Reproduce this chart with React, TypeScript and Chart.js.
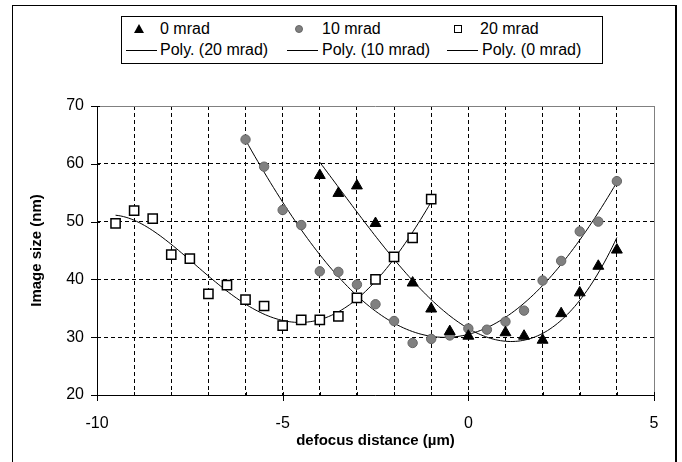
import React, { useEffect, useRef } from "react";
import { Chart, registerables } from "chart.js";
Chart.register(...registerables);

// ---- data ----
const x0mrad = [-4, -3.5, -3, -2.5, -1.5, -1, -0.5, 0, 1, 1.5, 2, 2.5, 3, 3.5, 4];
const y0mrad = [58.0, 54.9, 56.2, 49.7, 39.4, 34.9, 31.0, 30.2, 30.8, 30.2, 29.5, 34.1, 37.7, 42.3, 45.1];

const x10mrad = [-6, -5.5, -5, -4.5, -4, -3.5, -3, -2.5, -2, -1.5, -1, -0.5, 0, 0.5, 1, 1.5, 2, 2.5, 3, 3.5, 4];
const y10mrad = [64.2, 59.5, 52.0, 49.4, 41.4, 41.3, 39.1, 35.7, 32.8, 29.0, 29.7, 30.3, 31.5, 31.3, 32.7, 34.6, 39.8, 43.2, 48.3, 50.0, 57.0];

const x20mrad = [-9.5, -9, -8.5, -8, -7.5, -7, -6.5, -6, -5.5, -5, -4.5, -4, -3.5, -3, -2.5, -2, -1.5, -1];
const y20mrad = [49.7, 51.9, 50.5, 44.3, 43.6, 37.5, 39.0, 36.5, 35.4, 32.0, 33.0, 33.0, 33.6, 36.8, 40.0, 43.9, 47.2, 53.9];

const seriesNames = ["0 mrad", "10 mrad", "20 mrad"];
const trendNames = ["Poly. (20 mrad)", "Poly. (10 mrad)", "Poly. (0 mrad)"];
const polyOrder0 = 3;
const polyOrder10 = 4;
const polyOrder20 = 4;

const xMin = -10;
const xMax = 5;
const xMajorTicks = [-10, -5, 0, 5];
const yMin = 20;
const yMax = 70;
const yTicks = [20, 30, 40, 50, 60, 70];
const xTitle = "defocus distance (\u00b5m)";
const yTitle = "Image size (nm)";

// least-squares polynomial (Excel "Poly." trendline)
function polyfit(xs: number[], ys: number[], deg: number): number[] {
  const n = deg + 1;
  const A: number[][] = Array.from({ length: n }, () => new Array(n + 1).fill(0));
  for (let i = 0; i < xs.length; i++) {
    const pw: number[] = [];
    let p = 1;
    for (let k = 0; k < 2 * n; k++) {
      pw.push(p);
      p *= xs[i];
    }
    for (let r = 0; r < n; r++) {
      for (let c = 0; c < n; c++) A[r][c] += pw[r + c];
      A[r][n] += pw[r] * ys[i];
    }
  }
  for (let col = 0; col < n; col++) {
    let piv = col;
    for (let r = col + 1; r < n; r++) if (Math.abs(A[r][col]) > Math.abs(A[piv][col])) piv = r;
    const t = A[col];
    A[col] = A[piv];
    A[piv] = t;
    for (let r = 0; r < n; r++) {
      if (r === col) continue;
      const f = A[r][col] / A[col][col];
      for (let c = col; c <= n; c++) A[r][c] -= f * A[col][c];
    }
  }
  return A.map((row, i) => row[n] / row[i]);
}

function trend(xs: number[], ys: number[], deg: number) {
  const coef = polyfit(xs, ys, deg);
  const lo = Math.min(...xs);
  const hi = Math.max(...xs);
  const pts: { x: number; y: number }[] = [];
  const steps = 120;
  for (let i = 0; i <= steps; i++) {
    const x = lo + ((hi - lo) * i) / steps;
    let y = 0;
    for (let k = coef.length - 1; k >= 0; k--) y = y * x + coef[k];
    pts.push({ x, y });
  }
  return pts;
}

const zip = (xs: number[], ys: number[]) => xs.map((x, i) => ({ x, y: ys[i] }));

const FONT = "'Liberation Sans', Arial, sans-serif";

const framePlugin = {
  id: "framePlugin",
  afterDatasetsDraw(chart: any) {
    const { ctx, chartArea } = chart;
    const { left, right, top, bottom } = chartArea;
    const xs = chart.scales.x;
    const ys = chart.scales.y;
    ctx.save();
    ctx.setLineDash([]);
    ctx.lineWidth = 1;
    ctx.strokeStyle = "#808080";
    ctx.beginPath();
    ctx.moveTo(left, Math.round(top) + 0.5);
    ctx.lineTo(right, Math.round(top) + 0.5);
    ctx.moveTo(Math.round(right) + 0.5, top);
    ctx.lineTo(Math.round(right) + 0.5, bottom);
    ctx.stroke();
    ctx.strokeStyle = "#000";
    ctx.beginPath();
    ctx.moveTo(Math.round(left) + 0.5, top);
    ctx.lineTo(Math.round(left) + 0.5, bottom + 0.5);
    ctx.moveTo(left, Math.round(bottom) + 0.5);
    ctx.lineTo(right + 0.5, Math.round(bottom) + 0.5);
    yTicks.forEach((v) => {
      const py = Math.round(ys.getPixelForValue(v)) + 0.5;
      ctx.moveTo(left - 6, py);
      ctx.lineTo(left + 3, py);
    });
    for (let v = xMin; v <= xMax; v++) {
      const px = Math.round(xs.getPixelForValue(v)) + 0.5;
      if (xMajorTicks.includes(v)) {
        ctx.moveTo(px, bottom - 3);
        ctx.lineTo(px, bottom + 6);
      } else {
        ctx.moveTo(px, bottom - 3);
        ctx.lineTo(px, bottom);
      }
    }
    ctx.stroke();
    ctx.restore();
  },
};

function LegendMarker({ kind }: { kind: string }) {
  if (kind === "tri")
    return (
      <div
        style={{
          width: 0,
          height: 0,
          borderLeft: "5px solid transparent",
          borderRight: "5px solid transparent",
          borderBottom: "9px solid #000",
        }}
      />
    );
  if (kind === "circ")
    return <div style={{ width: 8, height: 8, borderRadius: "50%", background: "#808080", border: "1px solid #666", boxSizing: "border-box" }} />;
  if (kind === "sq")
    return <div style={{ width: 8, height: 8, background: "#fff", border: "1px solid #000", boxSizing: "border-box" }} />;
  return <div style={{ width: 31, height: 0, borderTop: "1px solid #000" }} />;
}

export default function App() {
  const canvasRef = useRef<HTMLCanvasElement | null>(null);

  useEffect(() => {
    if (!canvasRef.current) return;
    const chart = new Chart(canvasRef.current, {
      type: "scatter",
      data: {
        datasets: [
          {
            label: seriesNames[0],
            data: zip(x0mrad, y0mrad),
            pointStyle: "triangle",
            pointRadius: 6.3,
            backgroundColor: "#000",
            borderColor: "#000",
            borderWidth: 1,
            showLine: false,
            order: 1,
          },
          {
            label: seriesNames[1],
            data: zip(x10mrad, y10mrad),
            pointStyle: "circle",
            pointRadius: 4.7,
            backgroundColor: "#808080",
            borderColor: "#666",
            borderWidth: 1,
            showLine: false,
            order: 1,
          },
          {
            label: seriesNames[2],
            data: zip(x20mrad, y20mrad),
            pointStyle: "rect",
            pointRadius: 6.5,
            backgroundColor: "#fff",
            borderColor: "#000",
            borderWidth: 1.5,
            showLine: false,
            order: 1,
          },
          {
            label: trendNames[0],
            data: trend(x20mrad, y20mrad, polyOrder20),
            showLine: true,
            pointRadius: 0,
            borderColor: "#000",
            borderWidth: 1,
            tension: 0,
            order: 2,
          },
          {
            label: trendNames[1],
            data: trend(x10mrad, y10mrad, polyOrder10),
            showLine: true,
            pointRadius: 0,
            borderColor: "#000",
            borderWidth: 1,
            tension: 0,
            order: 2,
          },
          {
            label: trendNames[2],
            data: trend(x0mrad, y0mrad, polyOrder0),
            showLine: true,
            pointRadius: 0,
            borderColor: "#000",
            borderWidth: 1,
            tension: 0,
            order: 2,
          },
        ] as any,
      },
      options: {
        animation: false,
        responsive: false,
        devicePixelRatio: 1,
        layout: { padding: { left: 12, top: 106, right: 28, bottom: 12 } },
        plugins: {
          legend: { display: false },
          tooltip: { enabled: false },
        },
        scales: {
          x: {
            type: "linear",
            min: xMin,
            max: xMax,
            afterFit: (s: any) => {
              s.height = 55;
            },
            ticks: {
              stepSize: 1,
              autoSkip: false,
              maxRotation: 0,
              padding: 19,
              color: "#000",
              font: { family: FONT, size: 16 },
              callback: (v: any) => (xMajorTicks.includes(Number(v)) ? String(v) : ""),
            },
            grid: {
              drawTicks: false,
              color: (c: any) => (c.tick && (c.tick.value === xMin || c.tick.value === xMax) ? "rgba(0,0,0,0)" : "#000"),
              lineWidth: 1,
            },
            border: { display: false, dash: [4, 3] },
            title: {
              display: true,
              text: xTitle,
              color: "#000",
              font: { family: FONT, size: 15, weight: "bold" },
              padding: { top: 0, bottom: 0 },
            },
          },
          y: {
            type: "linear",
            min: yMin,
            max: yMax,
            afterFit: (s: any) => {
              s.width = 85;
            },
            ticks: {
              stepSize: 10,
              padding: 13,
              color: "#000",
              font: { family: FONT, size: 16 },
            },
            grid: {
              drawTicks: false,
              color: (c: any) => (c.tick && (c.tick.value === yMin || c.tick.value === yMax) ? "rgba(0,0,0,0)" : "#000"),
              lineWidth: 1,
            },
            border: { display: false, dash: [4, 3] },
            title: {
              display: true,
              text: yTitle,
              color: "#000",
              font: { family: FONT, size: 15, weight: "bold" },
              padding: { top: 16, bottom: 0 },
            },
          },
        },
      } as any,
      plugins: [framePlugin],
    });
    return () => chart.destroy();
  }, []);

  const textStyle: React.CSSProperties = {
    position: "absolute",
    fontFamily: FONT,
    fontSize: 16,
    lineHeight: "18px",
    color: "#000",
    whiteSpace: "nowrap",
  };

  const row1 = 29;
  const row2 = 50;

  return (
    <div style={{ position: "fixed", left: 0, top: 0, width: 682, height: 462, background: "#fff", overflow: "hidden" }}>
      <div
        style={{
          position: "absolute",
          left: 12,
          top: 5,
          width: 665,
          height: 480,
          border: "1px solid #000",
          borderRight: "2px solid #000",
          boxSizing: "border-box",
        }}
      />
      <canvas ref={canvasRef} width={682} height={462} style={{ position: "absolute", left: 0, top: 0, width: 682, height: 462 }} />
      <div
        style={{
          position: "absolute",
          left: 121,
          top: 16,
          width: 482,
          height: 48,
          border: "1px solid #000",
          boxSizing: "border-box",
          background: "#fff",
        }}
      />
      <div style={{ position: "absolute", left: 134, top: row1 - 5 }}>
        <LegendMarker kind="tri" />
      </div>
      <div style={{ ...textStyle, left: 160, top: row1 - 9 }}>{seriesNames[0]}</div>
      <div style={{ position: "absolute", left: 295, top: row1 - 4 }}>
        <LegendMarker kind="circ" />
      </div>
      <div style={{ ...textStyle, left: 322, top: row1 - 9 }}>{seriesNames[1]}</div>
      <div style={{ position: "absolute", left: 454, top: row1 - 4 }}>
        <LegendMarker kind="sq" />
      </div>
      <div style={{ ...textStyle, left: 480, top: row1 - 9 }}>{seriesNames[2]}</div>
      <div style={{ position: "absolute", left: 126, top: row2 }}>
        <LegendMarker kind="line" />
      </div>
      <div style={{ ...textStyle, left: 160, top: row2 - 9 }}>{trendNames[0]}</div>
      <div style={{ position: "absolute", left: 287, top: row2 }}>
        <LegendMarker kind="line" />
      </div>
      <div style={{ ...textStyle, left: 322, top: row2 - 9 }}>{trendNames[1]}</div>
      <div style={{ position: "absolute", left: 447, top: row2 }}>
        <LegendMarker kind="line" />
      </div>
      <div style={{ ...textStyle, left: 482, top: row2 - 9 }}>{trendNames[2]}</div>
    </div>
  );
}
